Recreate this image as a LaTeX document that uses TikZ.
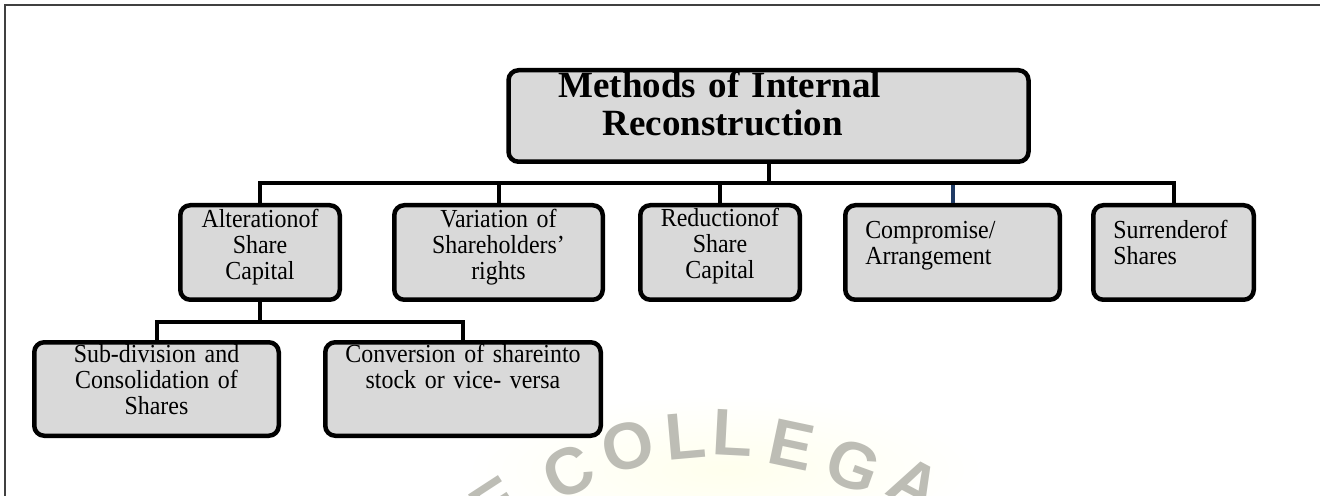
\documentclass[tikz,border=0pt]{standalone}
\usepackage{fontspec}
\setmainfont{Liberation Serif}
\newfontfamily\boxfont{Liberation Serif}[FakeStretch=0.92]
\newfontfamily\wmfont{Liberation Sans}
\usetikzlibrary{calc}

\definecolor{boxfill}{HTML}{D9D9D9}
\definecolor{stemblue}{HTML}{1F3A64}
\definecolor{wmgray}{HTML}{BDBDB5}

\begin{document}
\begin{tikzpicture}[x=0.5pt, y=-0.5pt,
    box/.style={draw, line width=2.25pt, rounded corners=5pt, fill=boxfill, inner xsep=4pt, inner ysep=0pt, align=center, font=\boxfont\fontsize{13}{13}\selectfont},
    lbox/.style={box, inner xsep=10pt, align=left},
    sz/.style n args={3}{text width=#1, text height=#2, text depth=#3},
    link/.style={line width=2pt},
    wm/.style={text=wmgray, font=\wmfont\bfseries\fontsize{33}{33}\selectfont, inner sep=0pt}]
            \useasboundingbox (0,0) rectangle (1320,496);
            % watermark
            \shade[inner color=yellow!7, outer color=white] (725,470) ellipse [x radius=260, y radius=75];
            \foreach \ch/\px/\py/\rot [count=\i] in {E/496/504/33, C/568/472/25, O/628/446/14, L/686/436/5, L/733/433/-3, E/792/445/-12, G/853/466/-20, A/915/485/-28}
                \node[wm, rotate=\rot] (wm\i) at (\px,\py) {\ch};
            \draw[line width=1pt, black!75] (5,496) -- (5,5) -- (1320,5);
            % boxes
            \node[box, sz={260pt}{13.4pt}{32.35pt}, inner xsep=0pt, align=left, font=\bfseries\fontsize{18.5}{19}\selectfont] (top) at (768.5,116) {\hspace*{25pt}Methods of Internal\\\hspace*{47pt}Reconstruction};
            \node[box, sz={71.75pt}{11pt}{36.25pt}] (alt) at (260,252.5) {Alterationof\\Share\\Capital};
            \node[box, sz={96.25pt}{11pt}{36.25pt}] (var) at (498.5,252.5) {Variation of\\Shareholders’\\rights};
            \node[box, sz={71.75pt}{10.5pt}{36.75pt}] (red) at (720,252.5) {Reductionof\\Share\\Capital};
            \node[lbox, sz={87.25pt}{16.4pt}{30.85pt}] (comp) at (952.5,252.5) {Compromise/\\Arrangement};
            \node[lbox, sz={60.25pt}{16.4pt}{30.85pt}] (sur) at (1173.5,252.5) {Surrenderof\\Shares};
            \node[box, sz={114.25pt}{10pt}{36.75pt}] (subdiv) at (156.5,389) {Sub-division and\\Consolidation of\\Shares};
            \node[box, sz={129.75pt}{10pt}{36.75pt}] (conv) at (463,389) {Conversion of shareinto\\stock or vice- versa};
            % connectors
            \coordinate (bus) at (768.5,183);
            \coordinate (sub) at (260,322);
            \draw[link] (top) -- (bus);
            \draw[link, stemblue] (bus) -| (comp);
            \draw[link] (bus) -| (alt);
            \draw[link] (bus) -| (var);
            \draw[link] (bus) -| (red);
            \draw[link] (bus) -| (sur);
            \draw[link] (alt) -- (sub);
            \draw[link] (sub) -| (subdiv);
            \draw[link] (sub) -| (conv);
        \end{tikzpicture}
\end{document}
